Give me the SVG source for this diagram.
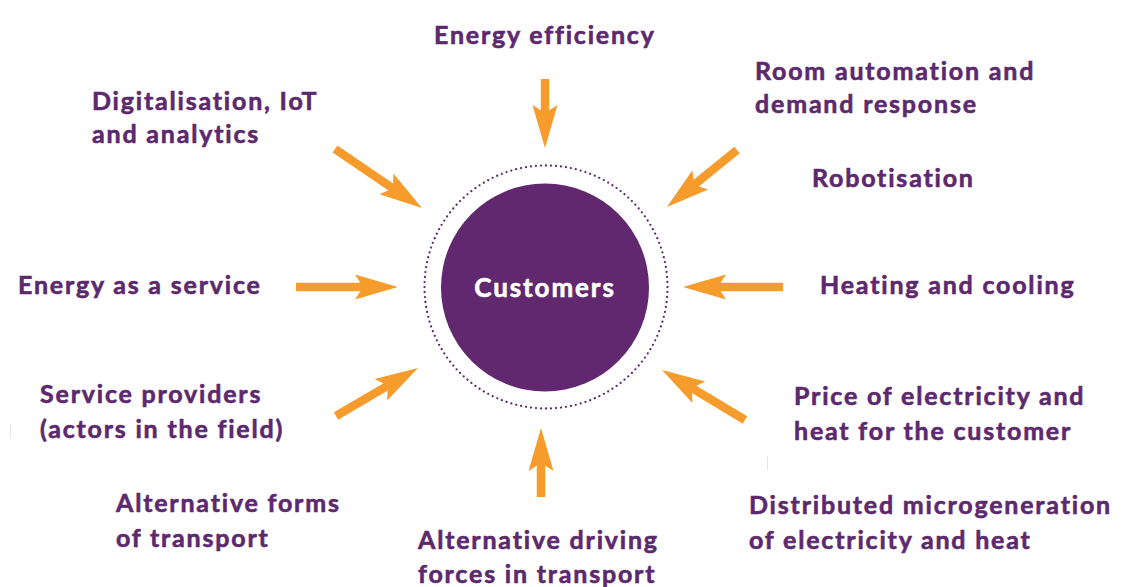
<svg xmlns="http://www.w3.org/2000/svg" width="1122" height="587" viewBox="0 0 1122 587">
  <style>
    .lbl { font-family: Lato, "Open Sans", "Liberation Sans", sans-serif; font-weight: 700; font-size: 25px; letter-spacing: 1.8px; fill: #5c296e; stroke: #5c296e; stroke-width: 0.6px; }
    .hub { font-family: Lato, "Open Sans", "Liberation Sans", sans-serif; font-weight: 700; font-size: 26px; letter-spacing: 1.9px; fill: #ffffff; stroke: #ffffff; stroke-width: 0.6px; }
    .shaft { stroke: #f59c2d; stroke-width: 8.5; fill: none; marker-end: url(#head); }
  </style>
  <defs>
    <!-- notched arrowhead; the shaft stops 35px short of the tip -->
    <marker id="head" markerUnits="userSpaceOnUse" viewBox="-44 -14 46 28" refX="-35" refY="0" markerWidth="46" markerHeight="28" orient="auto" overflow="visible">
      <path d="M0,0 L-43,-12.5 L-35,0 L-43,12.5 Z" fill="#f59c2d"/>
    </marker>
  </defs>
  <rect width="1122" height="587" fill="#ffffff"/>

  <!-- central hub -->
  <g id="customers">
    <circle cx="546" cy="287" r="121.5" fill="none" stroke="#5c296e" stroke-width="2.3" stroke-linecap="round" stroke-dasharray="0 5.02"/>
    <circle cx="545" cy="287.5" r="104" fill="#61286f"/>
    <text class="hub" x="545" y="297" text-anchor="middle">Customers</text>
  </g>

  <!-- incoming arrows -->
  <g id="connectors">
    <line class="shaft" x1="545" y1="79" x2="545" y2="113"/>
    <line class="shaft" x1="335" y1="149" x2="393" y2="188.4"/>
    <line class="shaft" x1="737" y1="150" x2="694.1" y2="184.9"/>
    <line class="shaft" x1="296" y1="287" x2="363" y2="287"/>
    <line class="shaft" x1="783" y1="287" x2="718" y2="287"/>
    <line class="shaft" x1="336" y1="416" x2="387.8" y2="385.7"/>
    <line class="shaft" x1="745" y1="420" x2="692" y2="388.1"/>
    <line class="shaft" x1="541" y1="497" x2="541" y2="463"/>
  </g>

  <g id="energy-efficiency"><text class="lbl" x="434" y="44">Energy efficiency</text></g>
  <g id="room-automation">
    <text class="lbl" x="755" y="80">Room automation and</text>
    <text class="lbl" x="755" y="113">demand response</text>
  </g>
  <g id="digitalisation">
    <text class="lbl" x="92" y="110">Digitalisation, IoT</text>
    <text class="lbl" x="92" y="143">and analytics</text>
  </g>
  <g id="robotisation"><text class="lbl" x="812" y="187">Robotisation</text></g>
  <g id="energy-service"><text class="lbl" x="18" y="294">Energy as a service</text></g>
  <g id="heating-cooling"><text class="lbl" x="820" y="294">Heating and cooling</text></g>
  <g id="service-providers">
    <text class="lbl" x="40" y="403">Service providers</text>
    <text class="lbl" x="40" y="438">(actors in the field)</text>
  </g>
  <g id="price">
    <text class="lbl" x="794" y="405">Price of electricity and</text>
    <text class="lbl" x="794" y="440">heat for the customer</text>
  </g>
  <g id="alt-transport">
    <text class="lbl" x="116" y="512">Alternative forms</text>
    <text class="lbl" x="116" y="547">of transport</text>
  </g>
  <g id="microgeneration">
    <text class="lbl" x="749" y="514">Distributed microgeneration</text>
    <text class="lbl" x="749" y="549">of electricity and heat</text>
  </g>
  <g id="driving-forces">
    <text class="lbl" x="418" y="549">Alternative driving</text>
    <text class="lbl" x="418" y="583">forces in transport</text>
  </g>

  <!-- faint hairlines -->
  <g stroke="#e4e4e4" stroke-width="1">
    <line x1="10.5" y1="424" x2="10.5" y2="438"/>
    <line x1="767.5" y1="456" x2="767.5" y2="470"/>
  </g>
</svg>
